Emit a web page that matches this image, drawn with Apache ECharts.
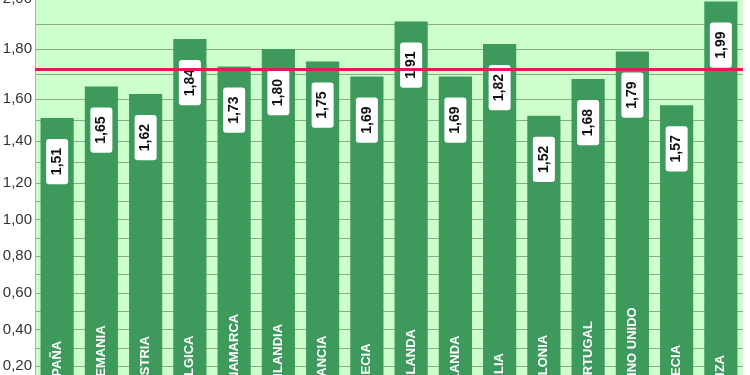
<!DOCTYPE html>
<html><head><meta charset="utf-8">
<script src="https://cdn.jsdelivr.net/npm/echarts@6/dist/echarts.min.js"></script>
<style>html,body{margin:0;padding:0;background:#fff}#c{width:750px;height:375px}</style>
</head><body><div id="c"></div>
<script>
// ---- data ----
const categories = ['ESPAÑA','ALEMANIA','AUSTRIA','BÉLGICA','DINAMARCA','FINLANDIA','FRANCIA','GRECIA','HOLANDA','IRLANDA','ITALIA','POLONIA','PORTUGAL','REINO UNIDO','SUECIA','SUIZA'];
const values = [1.51,1.65,1.62,1.84,1.73,1.80,1.75,1.69,1.91,1.69,1.82,1.52,1.68,1.79,1.57,1.99];
const averageValue = 1.72;
const yTickStep = 0.2;
// the original value scale is piecewise: three stacked axis bands (top to bottom)
const axisBandsMin = [1.6, 1.2, 0];
const axisBandsMax = [2.0, 1.6, 1.2];

// ---- chart ----
const fmt = v => v.toFixed(2).replace('.', ',');
const gridBox = [{top:-1,height:100},{top:99,height:84},{top:183,height:220}];
const grids = [], xAxes = [], yAxes = [], series = [];
const barColor = '#3d9a5c';
const gridLineColor = '#8aa88a';

axisBandsMin.forEach((lo, i) => {
  const hi = axisBandsMax[i];
  const bottomBand = i === axisBandsMin.length - 1;
  grids.push({left:35, right:7, top:gridBox[i].top, height:gridBox[i].height,
    outerBoundsMode:'none', containLabel:false,
    show:true, backgroundColor:'#ccffcc', borderWidth:0});
  xAxes.push({type:'category', gridIndex:i, data:categories, z:10,
    show: bottomBand,
    axisLine:{show:false}, axisTick:{show:false},
    axisLabel:{show:bottomBand, inside:true, rotate:90, interval:0, margin:9,
      color:'#ffffff', fontWeight:'bold', fontSize:13, fontFamily:'Liberation Sans'}});
  yAxes.push({type:'value', gridIndex:i, min:lo, max:hi, interval:yTickStep,
    axisLine:{show:true, lineStyle:{color:'#b0b0b0', width:1}},
    axisTick:{show:false},
    axisLabel:{showMinLabel: bottomBand, margin:3, color:'#333333', fontSize:15,
      fontFamily:'Liberation Sans', formatter: v => fmt(v)},
    splitLine:{show:true, lineStyle:{color:gridLineColor, width:1}},
    minorTick:{show:false, splitNumber:2},
    minorSplitLine:{show:true, lineStyle:{color:gridLineColor, width:1}}});
  const s = {
    type:'bar', xAxisIndex:i, yAxisIndex:i, barCategoryGap:'25%', clip:true,
    itemStyle:{color:barColor},
    label:{position:'insideTop', distance:21, rotate:90, align:'right', verticalAlign:'middle',
      backgroundColor:'#ffffff', borderRadius:3, padding:[4,9],
      color:'#111111', fontWeight:'bold', fontSize:14, fontFamily:'Liberation Sans',
      formatter: p => fmt(p.value)},
    data: values.map(v => ({value:v, label:{show: v > lo && v <= hi}}))
  };
  if (averageValue > lo && averageValue <= hi) {
    s.markLine = {silent:true, symbol:'none', label:{show:false},
      lineStyle:{color:'#e2195b', width:3, type:'solid'},
      data:[{yAxis:averageValue}]};
  }
  series.push(s);
});

const chart = echarts.init(document.getElementById('c'), null, {renderer:'canvas'});
chart.setOption({animation:false, grid:grids, xAxis:xAxes, yAxis:yAxes, series:series});
</script></body></html>
